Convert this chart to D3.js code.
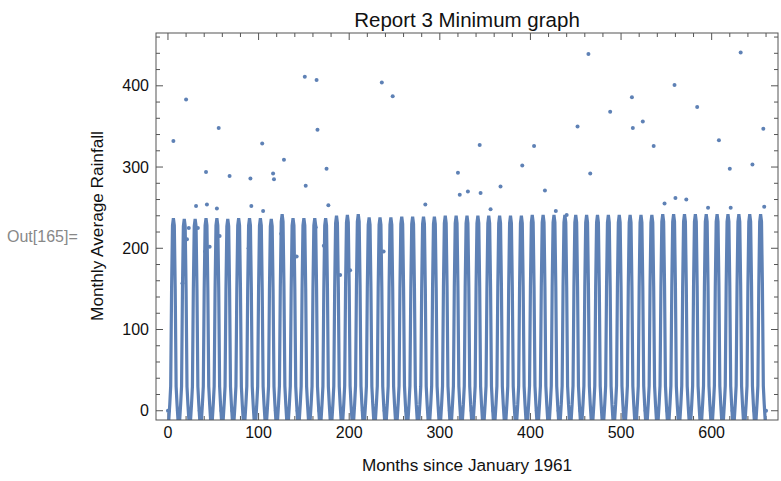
<!DOCTYPE html>
<html><head><meta charset="utf-8">
<script src="https://cdn.jsdelivr.net/npm/d3@7"></script>
<style>
body{margin:0;background:#fff}
text{font-family:"Liberation Sans",Arial,sans-serif}
</style>
</head><body>
<svg id="chart" width="781" height="481"></svg>
<script>
// ---- labels ----
const chartTitle = "Report 3 Minimum graph";
const xTitle = "Months since January 1961";
const yTitle = "Monthly Average Rainfall";
const cellLabel = "Out[165]=";
const xTickValues = [0, 100, 200, 300, 400, 500, 600];
const yTickValues = [0, 100, 200, 300, 400];

// ---- fitted curve: shape of one year (Jan..Dec) for a 237 peak, and each year's peak ----
const yearShape = [-40, -10, 8, 30, 150, 228, 237, 228, 150, 30, 8, -10];
const yearPeaks = [237, 236, 236, 237, 237, 236, 237, 237, 237, 236, 242,
                   237, 237, 237, 237, 240, 241, 242, 238, 238, 238, 239,
                   239, 239, 239, 240, 240, 240, 240, 240, 240, 240, 240,
                   241, 241, 241, 241, 241, 241, 241, 241, 241, 241, 241,
                   241, 242, 242, 242, 242, 242, 242, 242, 242, 242, 242];
const lastMonth = 660;

// ---- observed monthly rainfall (month index, value) ----
const obsMonth = [6, 20, 31, 42, 43, 54, 56, 68, 91, 92, 104, 105, 116, 117, 128, 151, 152, 164, 165, 175, 177, 236, 248,
                  284, 320, 322, 331, 344, 345, 356, 367, 391, 404, 416, 428, 440, 452, 464, 466, 488, 512, 513, 524, 536,
                  548, 559, 560, 572, 584, 596, 608, 620, 621, 632, 645, 657, 658,
                  23, 21, 33, 46, 41, 57, 89, 125, 142, 163, 172, 16, 190, 201, 210, 238, 245,
                  0, 1, 11, 12, 24, 35, 36, 48, 59, 60, 71, 84, 95, 108, 119, 132, 143, 156, 167, 180, 191, 204, 215,
                  228, 239, 252, 263, 276, 287, 300, 311, 324, 335, 348, 359, 372, 383, 396, 407, 420, 431, 444, 455,
                  468, 479, 492, 503, 516, 527, 540, 551, 564, 575, 588, 599, 612, 623, 636, 647, 660];
const obsRain  = [332, 383, 252, 294, 254, 249, 348, 289, 286, 252, 329, 246, 292, 285, 309, 411, 277, 407, 346, 298, 253, 404, 387,
                  254, 293, 266, 270, 327, 268, 248, 276, 302, 326, 271, 246, 241, 350, 439, 292, 368, 386, 348, 356, 326,
                  255, 401, 262, 260, 374, 250, 333, 298, 250, 441, 303, 347, 251,
                  225, 211, 225, 202, 196, 215, 200, 218, 190, 226, 203, 157, 167, 173, 219, 196, 183,
                  0, 0, 0, 0, 0, 0, 0, 0, 0, 0, 0, 0, 0, 0, 0, 0, 0, 0, 0, 0, 0, 0, 0,
                  0, 0, 0, 0, 0, 0, 0, 0, 0, 0, 0, 0, 0, 0, 0, 0, 0, 0, 0, 0,
                  0, 0, 0, 0, 0, 0, 0, 0, 0, 0, 0, 0, 0, 0, 0, 0, 0];

// ---- layout ----
const W = 781, H = 481;
const frame = {left: 156, right: 778, top: 33, bottom: 420};
const blue = "#5e81b5";

const svg = d3.select("#chart");
svg.append("rect").attr("width", W).attr("height", H).attr("fill", "#fff");

const x = d3.scaleLinear().domain([-13.2, 673.2]).range([frame.left, frame.right]);
const y = d3.scaleLinear().domain([-11.4, 465]).range([frame.bottom, frame.top]);

svg.append("clipPath").attr("id", "plotClip")
  .append("rect").attr("x", frame.left).attr("y", frame.top)
  .attr("width", frame.right - frame.left).attr("height", frame.bottom - frame.top);

// curve points, month by month
const curve = d3.range(0, lastMonth + 1).map(m => {
  const yr = Math.min(Math.floor(m / 12), yearPeaks.length - 1);
  return [m, yearShape[m % 12] * yearPeaks[yr] / 237];
});

// ---- frame ticks (drawn under the data) ----
const axisColor = "#555";
const tickG = svg.append("g");
const xMinor = d3.range(0, 680, 20).filter(v => x(v) <= frame.right);
const yMinor = d3.range(0, 465, 20);
xMinor.forEach(v => {
  const len = v % 100 === 0 ? 7 : 4;
  tickG.append("line").attr("x1", x(v)).attr("x2", x(v)).attr("y1", frame.bottom).attr("y2", frame.bottom - len)
    .attr("stroke", axisColor).attr("stroke-width", 1);
  tickG.append("line").attr("x1", x(v)).attr("x2", x(v)).attr("y1", frame.top).attr("y2", frame.top + len)
    .attr("stroke", axisColor).attr("stroke-width", 1);
});
yMinor.forEach(v => {
  const len = v % 100 === 0 ? 7 : 4;
  tickG.append("line").attr("x1", frame.left).attr("x2", frame.left + len).attr("y1", y(v)).attr("y2", y(v))
    .attr("stroke", axisColor).attr("stroke-width", 1);
  tickG.append("line").attr("x1", frame.right).attr("x2", frame.right - len).attr("y1", y(v)).attr("y2", y(v))
    .attr("stroke", axisColor).attr("stroke-width", 1);
});

// ---- data ----
const plot = svg.append("g").attr("clip-path", "url(#plotClip)");
plot.append("path").datum(curve)
  .attr("fill", "none").attr("stroke", blue).attr("stroke-width", 3.2)
  .attr("stroke-linejoin", "bevel")
  .attr("d", d3.line().x(d => x(d[0])).y(d => y(d[1])));

plot.selectAll("circle.obs").data(obsMonth.map((m, i) => [m, obsRain[i]]))
  .join("circle").attr("class", "obs")
  .attr("cx", d => x(d[0])).attr("cy", d => y(d[1])).attr("r", 2)
  .attr("fill", blue);

// ---- frame ----
svg.append("rect").attr("x", frame.left).attr("y", frame.top)
  .attr("width", frame.right - frame.left).attr("height", frame.bottom - frame.top)
  .attr("fill", "none").attr("stroke", axisColor).attr("stroke-width", 1);

// ---- tick labels ----
svg.append("g").selectAll("text").data(xTickValues).join("text")
  .attr("x", d => x(d)).attr("y", 437.5).attr("text-anchor", "middle")
  .attr("font-size", 16).attr("fill", "#111").text(d => d);
svg.append("g").selectAll("text").data(yTickValues).join("text")
  .attr("x", frame.left - 7).attr("y", d => y(d) + 5.6).attr("text-anchor", "end")
  .attr("font-size", 16).attr("fill", "#111").text(d => d);

// ---- titles ----
svg.append("text").attr("x", 467).attr("y", 27).attr("text-anchor", "middle")
  .attr("font-size", 20.5).attr("fill", "#111").text(chartTitle);
svg.append("text").attr("x", 467).attr("y", 471).attr("text-anchor", "middle")
  .attr("font-size", 17.2).attr("fill", "#111").text(xTitle);
svg.append("text").attr("transform", "translate(103,226) rotate(-90)").attr("text-anchor", "middle")
  .attr("font-size", 17.2).attr("fill", "#111").text(yTitle);
svg.append("text").attr("x", 7).attr("y", 241.5)
  .attr("font-size", 16).attr("fill", "#888").text(cellLabel);
</script>
</body></html>
